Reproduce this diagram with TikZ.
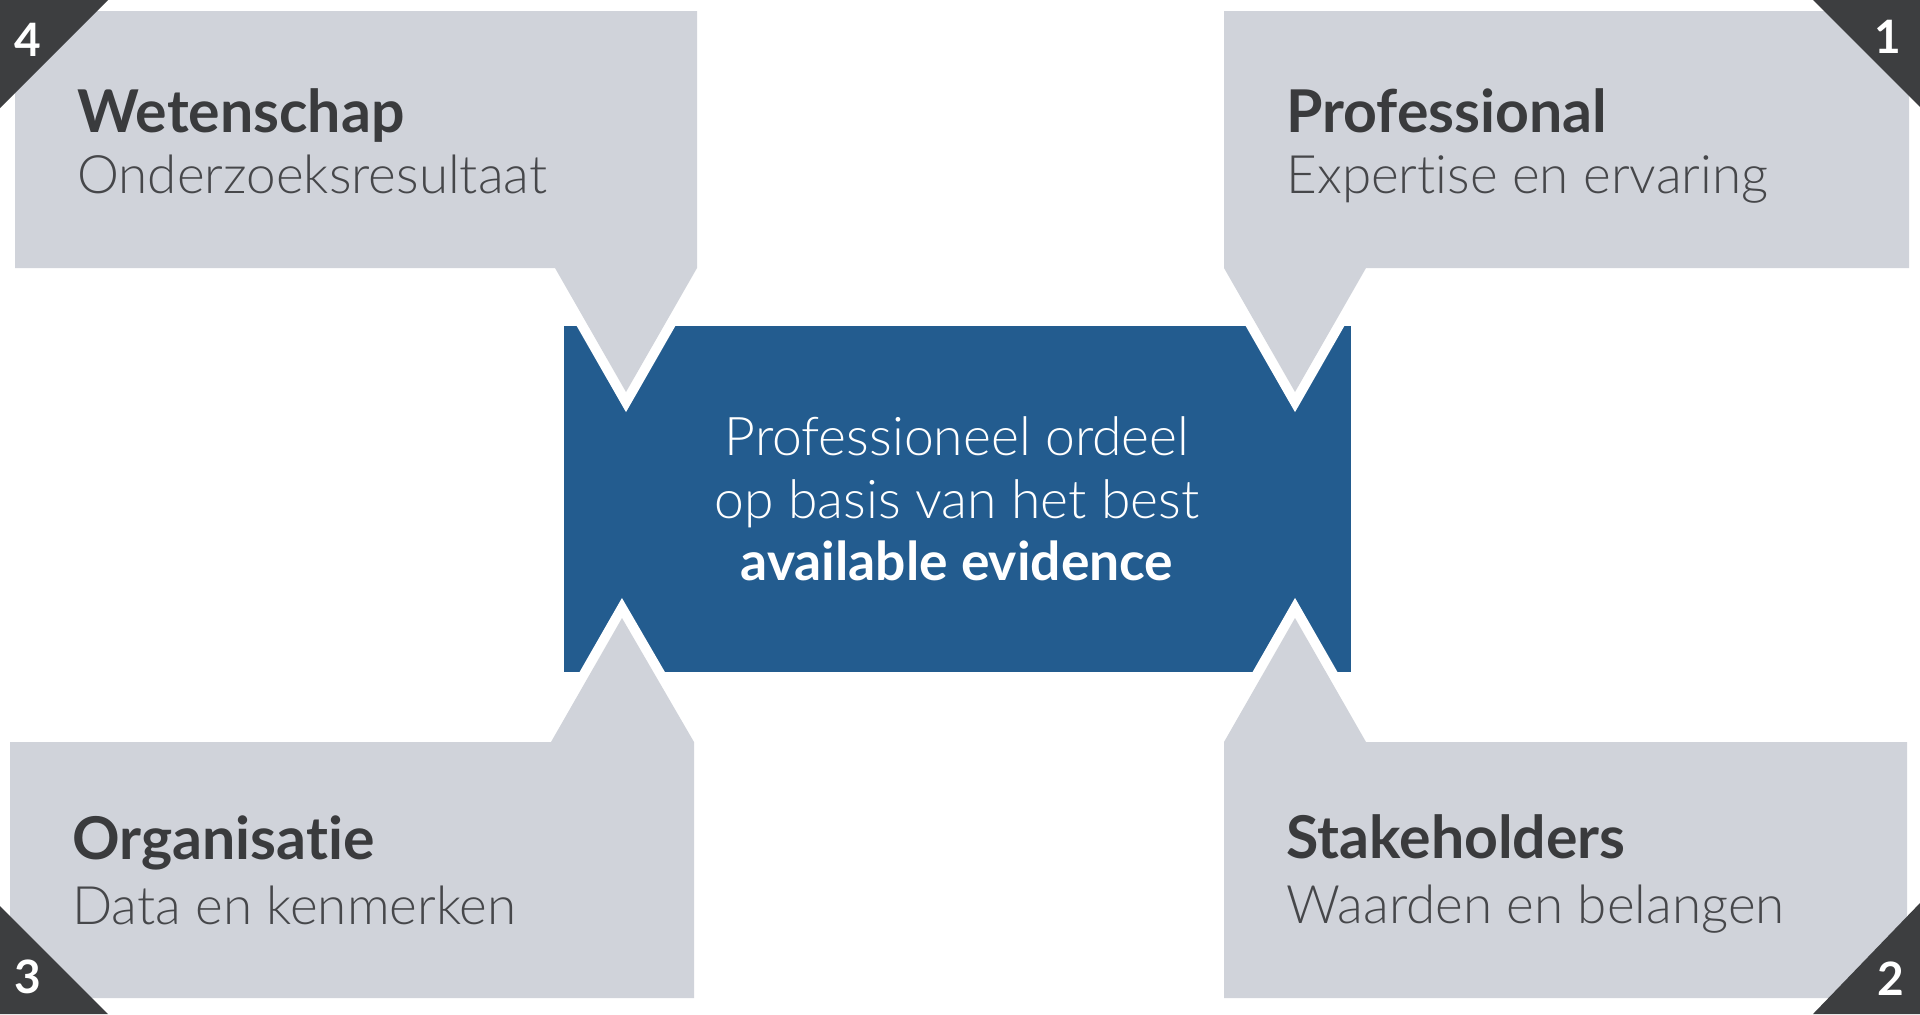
\documentclass[tikz,border=0pt]{standalone}
\usepackage{fontspec}
\setmainfont{Lato}[UprightFont={* Light}, BoldFont={* Bold}, Ligatures=NoCommon]
\usepackage{tikz}
\usetikzlibrary{positioning}
\usepackage{xcolor}
\definecolor{cardgrey}{RGB}{208,211,218}
\definecolor{boxblue}{RGB}{35,92,143}
\definecolor{cornergrey}{RGB}{61,62,64}
\definecolor{titlegrey}{RGB}{58,59,61}
\definecolor{subgrey}{RGB}{70,71,74}
\newcommand{\corner}[5] {
    \fill[cornergrey] #1 -- #2 -- #3 -- cycle;
    \node[num] (n#4) at #5 {#4};
}
\newcommand{\cardtext}[6] {
    \node[cardtitle] (#1Title) at (#2,#3) {#5};
    \node[cardsub] (#1Sub) at (#2,#4) {#6};
}

\begin{document}
\begin{tikzpicture}[
        x=0.5pt,
        y=-0.5pt,
        card/.style={fill=cardgrey,
            preaction={draw=white,line width=10pt,line join=miter}},
        cardtitle/.style={anchor=base west,inner sep=0,text=titlegrey,
            font=\bfseries\fontsize{29.5}{30}\selectfont},
        cardsub/.style={anchor=base west,inner sep=0,text=subgrey,
            font=\fontsize{26.5}{27}\selectfont},
        num/.style={inner sep=0,text=white,
            font=\bfseries\fontsize{23}{23}\selectfont},
    ]
        \useasboundingbox[fill=white] (0,0) rectangle (1920,1014);
        % centre
        \fill[boxblue] (564,326) rectangle (1351,672);
        \node[align=center,text=white,inner sep=0,
            font=\fontsize{26.7}{31.3}\selectfont]
            (judgement) at (957,499)
            {Professioneel ordeel\\op basis van het best\\\textbf{available evidence}};
        % the four cards
        \path[card] (15,11) -- (697,11) -- (697,268) -- (626,392)
            -- (555,268) -- (15,268) -- cycle;
        \path[card] (1224,11) -- (1909,11) -- (1909,268) -- (1366,268)
            -- (1295,392) -- (1224,268) -- cycle;
        \path[card] (10,742) -- (551,742) -- (622,618) -- (694,742)
            -- (694,998) -- (10,998) -- cycle;
        \path[card] (1224,742) -- (1295,618) -- (1366,742) -- (1907,742)
            -- (1907,998) -- (1224,998) -- cycle;
        \cardtext{wet}{77}{132}{193}{Wetenschap}{Onderzoeksresultaat}
        \cardtext{pro}{1286}{132}{193}{Professional}{Expertise en ervaring}
        \cardtext{org}{72}{859}{924}{Organisatie}{Data en kenmerken}
        \cardtext{sta}{1286}{858}{923}{Stakeholders}{Waarden en belangen}
        % numbers
        \corner{(0,0)}{(108,0)}{(0,108)}{4}{(28,40)}
        \corner{(1813,0)}{(1920,0)}{(1920,107)}{1}{(1888,37)}
        \corner{(0,906)}{(0,1014)}{(108,1014)}{3}{(28,977)}
        \corner{(1813,1014)}{(1920,1014)}{(1920,903)}{2}{(1891,979)}
    \end{tikzpicture}
\end{document}
